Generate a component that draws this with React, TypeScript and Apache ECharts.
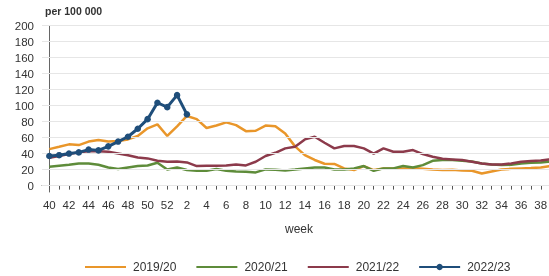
import React, { useEffect, useRef } from "react";
import * as echarts from "echarts";

const weeks: number[] = [
  40, 41, 42, 43, 44, 45, 46, 47, 48, 49, 50, 51, 52,
  1, 2, 3, 4, 5, 6, 7, 8, 9, 10, 11, 12, 13, 14, 15, 16, 17, 18, 19, 20,
  21, 22, 23, 24, 25, 26, 27, 28, 29, 30, 31, 32, 33, 34, 35, 36, 37, 38, 39,
];

const s1920: number[] = [
  45.6, 48.5, 51.5, 50.6, 55, 57, 55, 55.6, 57.7, 62, 71.5, 76.5, 62,
  74, 87, 83, 72, 75, 79, 75.6, 68, 68.5, 75, 74, 65, 49, 38, 32, 27.3, 27,
  21.5, 19.4, 24.4, 19.4, 21.5, 21.5, 21.5, 22, 21, 20, 19.4, 19.8, 19, 18.5,
  15.2, 17.7, 20, 21, 21.5, 22, 22.7, 24.4,
];

const s2021: number[] = [
  23.5, 24.8, 26, 27.7, 27.7, 26, 22.7, 20.6, 22.7, 24.4, 25.2, 28.5, 20.2,
  22.7, 19.4, 18.5, 18.5, 20.6, 18.5, 17.7, 17.3, 16.5, 20.2, 19.8, 19, 20,
  21.5, 22.7, 22.7, 20, 20, 21.5, 24.4, 18.5, 21.5, 21.5, 24.4, 22.7, 25.6,
  31, 32, 32, 31, 30, 27.7, 26.3, 25.6, 26, 27.7, 28.5, 29, 30,
];

const s2122: number[] = [
  34.8, 37, 39.4, 41.5, 43, 43, 42.3, 40.2, 38, 35, 34, 31, 29.8,
  30, 29, 24.4, 24.8, 24.8, 25.2, 26.5, 25.2, 29.8, 37, 41, 46.5, 48.5,
  57.7, 61, 53.5, 46.5, 49.4, 49.4, 46.5, 40, 46.5, 42.3, 42.3, 44.4, 39.4,
  36, 33.5, 32.7, 31.9, 29.8, 27.7, 26.3, 26.3, 27.7, 29.8, 30.6, 31.3, 33,
];

const s2223: number[] = [
  36.9, 38, 40, 41.5, 45, 44, 49, 55, 61, 71, 83, 103.5, 98, 113, 89,
];

const yTicks: number[] = [0, 20, 40, 60, 80, 100, 120, 140, 160, 180, 200];
const xLabelIdx: number[] = weeks.map((_, i) => i).filter((i) => i % 2 === 0);
const xTickIdx: number[] = weeks.map((_, i) => i);

const seriesNames = ["2019/20", "2020/21", "2021/22", "2022/23"];
const colors = ["#E9962A", "#5E8C3A", "#8C3A4B", "#1F4E7A"];

const FONT = "'Liberation Sans', Arial, sans-serif";

export default function App() {
  const ref = useRef<HTMLDivElement>(null);
  useEffect(() => {
    const chart = echarts.init(ref.current!, null, { renderer: "svg" });
    const toData = (arr: number[]) => arr.map((v, i) => [i, v]);
    const option: any = {
      animation: false,
      textStyle: { fontFamily: FONT },
      grid: { left: 42, right: 4.5, top: 25.5, bottom: 84, containLabel: false },
      xAxis: {
        type: "value",
        min: -0.743,
        max: 51.5,
        axisLine: { show: true, lineStyle: { color: "#666", width: 1 } },
        axisTick: {
          show: true,
          customValues: xTickIdx,
          length: 4,
          lineStyle: { color: "#555" },
        },
        axisLabel: {
          customValues: xLabelIdx,
          formatter: (v: number) => String(weeks[Math.round(v)]),
          fontSize: 11.5,
          color: "#333",
          margin: 7,
          fontFamily: FONT,
        },
        splitLine: { show: false },
      },
      yAxis: {
        type: "value",
        min: -8,
        max: 200,
        axisLine: { show: true, lineStyle: { color: "#666", width: 1 } },
        axisTick: {
          show: true,
          customValues: yTicks,
          length: 4,
          lineStyle: { color: "#555" },
        },
        axisLabel: {
          customValues: yTicks,
          fontSize: 11.5,
          color: "#333",
          margin: 8,
          fontFamily: FONT,
        },
        splitLine: { show: false },
      },
      legend: {
        data: seriesNames.map((n, i) =>
          i < 3 ? { name: n, itemStyle: { opacity: 0 } } : { name: n }
        ),
        left: 79,
        top: 256,
        itemWidth: 41,
        itemHeight: 8,
        itemGap: 19,
        textStyle: { fontSize: 12, color: "#333", fontFamily: FONT, padding: [0, 0, 0, 2] },
      },
      graphic: [
        {
          type: "text",
          left: 45,
          top: 5,
          style: { text: "per 100 000", fontSize: 10.5, fontWeight: "bold", fill: "#333", fontFamily: FONT },
        },
        {
          type: "text",
          x: 299,
          y: 229,
          style: { text: "week", fontSize: 12, fill: "#333", fontFamily: FONT, align: "center", verticalAlign: "middle" },
        },
      ],
      series: [
        {
          name: "grid",
          type: "line",
          data: [],
          z: 1,
          silent: true,
          markLine: {
            silent: true,
            symbol: ["none", "none"],
            label: { show: false },
            lineStyle: { color: "#e6e6e6", width: 1, type: "solid" },
            emphasis: { disabled: true },
            data: yTicks.map((v) => ({ yAxis: v })),
          },
        },
        {
          name: seriesNames[0],
          type: "line",
          data: toData(s1920),
          symbol: "none",
          z: 2,
          lineStyle: { color: colors[0], width: 2.5 },
          itemStyle: { color: colors[0] },
        },
        {
          name: seriesNames[1],
          type: "line",
          data: toData(s2021),
          symbol: "none",
          z: 3,
          lineStyle: { color: colors[1], width: 2.5 },
          itemStyle: { color: colors[1] },
        },
        {
          name: seriesNames[2],
          type: "line",
          data: toData(s2122),
          symbol: "none",
          z: 4,
          lineStyle: { color: colors[2], width: 2.5 },
          itemStyle: { color: colors[2] },
        },
        {
          name: seriesNames[3],
          type: "line",
          data: toData(s2223),
          symbol: "circle",
          symbolSize: 6.5,
          showSymbol: true,
          z: 5,
          lineStyle: { color: colors[3], width: 3 },
          itemStyle: { color: colors[3], borderWidth: 0 },
        },
      ],
    };
    chart.setOption(option);
    return () => chart.dispose();
  }, []);
  return (
    <div
      ref={ref}
      style={{ position: "fixed", left: 0, top: 0, width: 560, height: 276 }}
    />
  );
}
